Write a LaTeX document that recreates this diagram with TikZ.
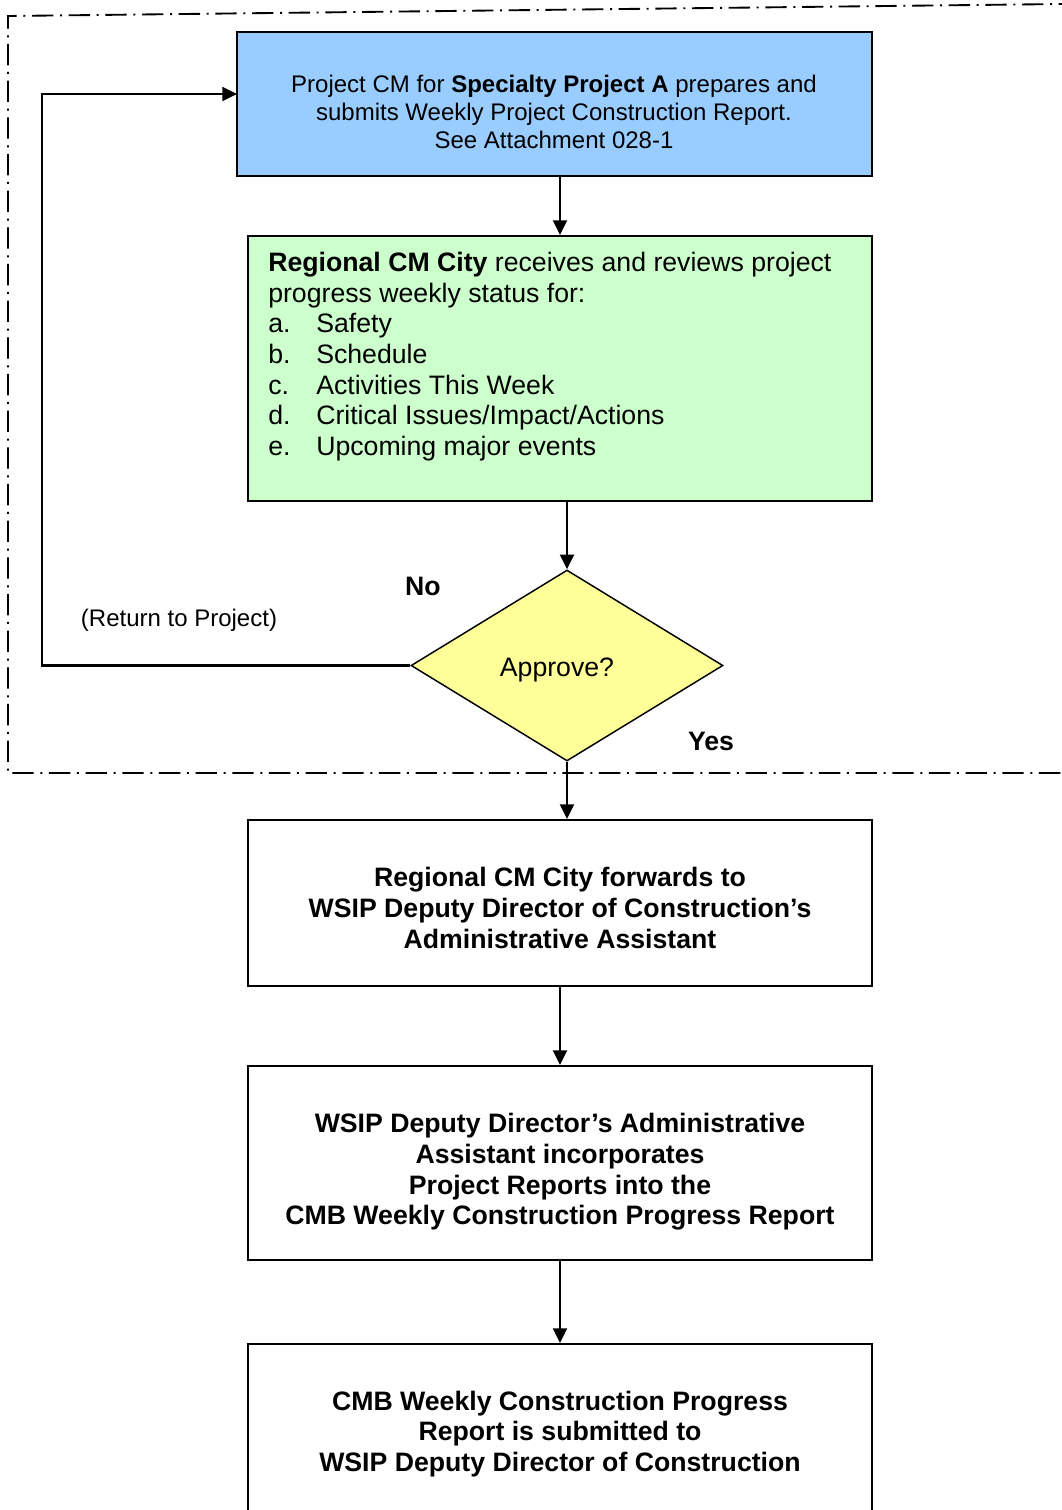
\documentclass[tikz,border=0pt]{standalone}
\usepackage{fontspec}
\setmainfont{Liberation Sans}
\usetikzlibrary{shapes.geometric,arrows.meta}
\definecolor{blueF}{HTML}{99CCFF}
\definecolor{greenF}{HTML}{CCFFCC}
\definecolor{yellowF}{HTML}{FFFF99}
\begin{document}
\begin{tikzpicture}[x=0.75pt,y=-0.75pt,
  box/.style={draw,line width=1.6pt,rectangle,inner sep=0pt,minimum width=468pt},
  txt/.style={inner sep=0pt,align=center,font=\fontsize{20}{23}\selectfont\bfseries},
  arr/.style={line width=1.7pt,-{Triangle[length=11pt,width=10.5pt]}},
  frame/.style={line width=1.4pt,dash pattern=on 16pt off 5pt on 1.5pt off 5pt},
  lbl/.style={inner sep=0pt,font=\fontsize{20}{23}\selectfont\bfseries}]
\clip (0,0) rectangle (1062,1510);
\fill[white] (0,0) rectangle (1062,1510);
\draw[frame] (1080,3.8) -- (8,16) -- (8,773) -- (1080,773);

\node[box,fill=blueF,minimum width=476.25pt,minimum height=108pt] (blue) at (554.5,104) {};
\node[inner sep=0pt,align=center,font=\fontsize{18}{21}\selectfont] (bluet) at (554,112)
  {Project CM for \textbf{Specialty Project A} prepares and\\submits Weekly Project Construction Report.\\See Attachment 028-1};

\node[box,fill=greenF,minimum height=198.75pt] (green) at (560,368.5) {};
\node[anchor=north west,inner sep=0pt,align=left,font=\fontsize{20}{23}\selectfont] (greent) at (268,252)
  {\textbf{Regional CM City} receives and reviews project\\
   progress weekly status for:\\
   \makebox[36pt][l]{a.}Safety\\
   \makebox[36pt][l]{b.}Schedule\\
   \makebox[36pt][l]{c.}Activities This Week\\
   \makebox[36pt][l]{d.}Critical Issues/Impact/Actions\\
   \makebox[36pt][l]{e.}Upcoming major events};

\node[draw,line width=1.1pt,fill=yellowF,diamond,minimum width=234pt,minimum height=143.25pt,inner sep=0pt] (dia) at (567,665.5) {};
\node[inner sep=0pt,font=\fontsize{20}{23}\selectfont] (diat) at (557,670) {Approve?};
\node[lbl] (no) at (423,586) {No};
\node[lbl] (yes) at (711,741) {Yes};
\node[inner sep=0pt,font=\fontsize{18}{21}\selectfont] (ret) at (179,620) {(Return to Project)};

\node[box,minimum height=124.5pt] (b3) at (560,903) {};
\node[txt] (b3t) at (560,908) {Regional CM City forwards to\\WSIP Deputy Director of Construction’s\\Administrative Assistant};

\node[box,minimum height=145.5pt] (b4) at (560,1163) {};
\node[txt] (b4t) at (560,1172) {WSIP Deputy Director’s Administrative\\Assistant incorporates\\Project Reports into the\\CMB Weekly Construction Progress Report};

\node[box,minimum height=162pt] (b5) at (560,1452) {};
\node[txt] (b5t) at (560,1434) {CMB Weekly Construction Progress\\Report is submitted to\\WSIP Deputy Director of Construction};

\draw[arr] (blue.south -| green.north) -- (green.north);
\draw[arr] (green.south -| dia.north) -- (dia.north);
\draw[arr] (dia.south) -- (dia.south |- b3.north);
\draw[arr] (b3.south) -- (b4.north);
\draw[arr] (b4.south) -- (b5.north);
\coordinate (fbc) at (42,663);
\coordinate (fbin) at (237,94);
\draw[arr] (dia.west) -- (dia.west -| fbc) |- (fbin);
\end{tikzpicture}
\end{document}
